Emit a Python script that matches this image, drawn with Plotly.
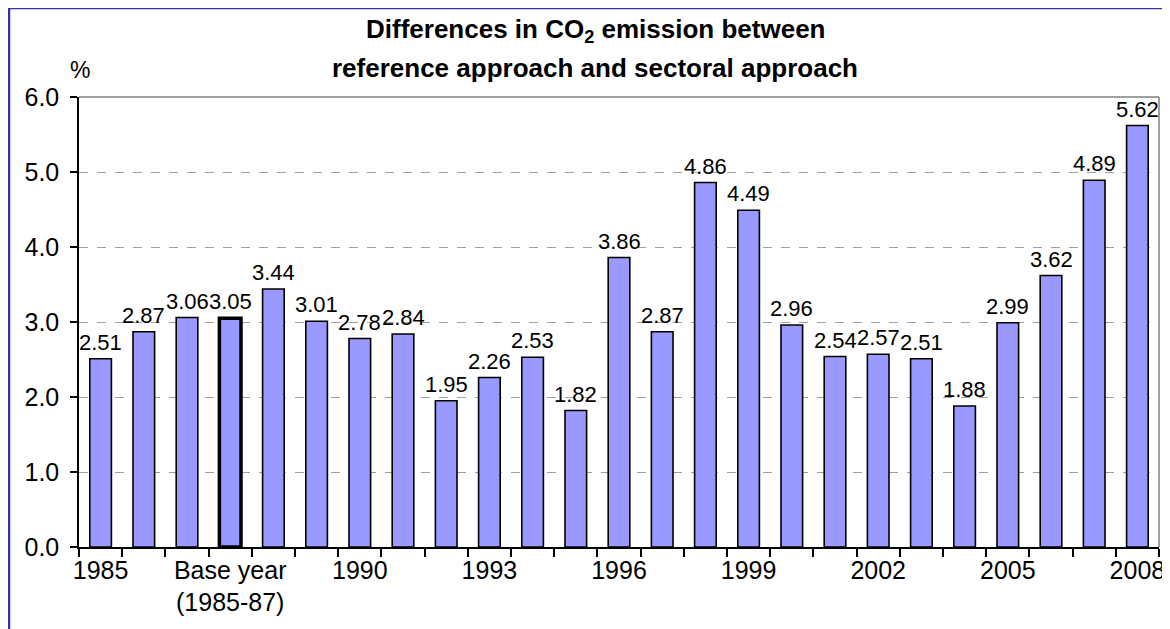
import plotly.graph_objects as go

categories = ["1985", "1986", "1987", "Base year<br>(1985-87)", "1988", "1989", "1990",
              "1991", "1992", "1993", "1994", "1995", "1996", "1997", "1998", "1999",
              "2000", "2001", "2002", "2003", "2004", "2005", "2006", "2007", "2008"]
values = [2.51, 2.87, 3.06, 3.05, 3.44, 3.01, 2.78, 2.84, 1.95, 2.26, 2.53, 1.82, 3.86,
          2.87, 4.86, 4.49, 2.96, 2.54, 2.57, 2.51, 1.88, 2.99, 3.62, 4.89, 5.62]
labels = [f"{v:.2f}" for v in values]
shown_ticks = list(range(0, len(categories), 3))
title_lines = ["<b>Differences in CO<sub>2</sub> emission between</b>",
               "<b>reference approach and sectoral approach</b>"]

FONT = "Liberation Sans, Arial"
W, H = 1162, 621          # page has an 8px body margin
L, R, T, B = 71, 11, 89, 82
PW, PH = W - L - R, H - T - B

def px(fx):
    return (fx - L) / PW

def py(fy):
    return 1 + (T - fy) / PH

xs = list(range(len(categories)))
line_widths = [3.5 if c.startswith("Base") else 1.6 for c in categories]

fig = go.Figure()
fig.add_trace(go.Bar(
    x=xs, y=values, width=0.5,
    marker=dict(color="#9999FF", line=dict(color="black", width=line_widths)),
    hoverinfo="skip",
))

for x, v, t in zip(xs, values, labels):
    fig.add_annotation(x=x, y=v, text=t, showarrow=False, yanchor="bottom", yshift=2,
                       font=dict(family=FONT, size=22, color="black"))

for line, fy in zip(title_lines, [22, 60]):
    fig.add_annotation(xref="paper", yref="paper", x=px(587), y=py(fy),
                       yanchor="middle", xanchor="center", showarrow=False, text=line,
                       font=dict(family=FONT, size=26, color="black"))
fig.add_annotation(xref="paper", yref="paper", x=px(72), y=py(62), xanchor="center",
                   yanchor="middle", showarrow=False, text="%",
                   font=dict(family=FONT, size=23, color="black"))

# outer border (dark blue), extends beyond right/bottom
fig.add_shape(type="line", xref="paper", yref="paper", x0=px(1), x1=px(W + 20),
              y0=py(0), y1=py(0), line=dict(color="#333399", width=2.5))
fig.add_shape(type="line", xref="paper", yref="paper", x0=px(1), x1=px(1),
              y0=py(0), y1=py(H + 20), line=dict(color="#333399", width=2.5))
# plot frame top/right
fig.add_shape(type="line", xref="paper", yref="paper", x0=0, x1=1, y0=1, y1=1,
              line=dict(color="#808080", width=1.5))
fig.add_shape(type="line", xref="paper", yref="paper", x0=1, x1=1, y0=0, y1=1,
              line=dict(color="#808080", width=1.5))

fig.update_layout(
    width=W, height=H,
    margin=dict(l=L, r=R, t=T, b=B, autoexpand=False),
    paper_bgcolor="white", plot_bgcolor="white",
    showlegend=False,
    font=dict(family=FONT, size=25, color="black"),
    xaxis=dict(
        range=[-0.5, len(categories) - 0.5],
        tickmode="array", tickvals=shown_ticks,
        ticktext=[categories[i] for i in shown_ticks],
        ticks="", showgrid=False, zeroline=False,
        showline=True, linecolor="black", linewidth=1.5,
        minor=dict(tickmode="linear", tick0=-0.5, dtick=1, ticks="outside",
                   ticklen=8, tickcolor="black", tickwidth=1.5, showgrid=False),
        tickfont=dict(size=25),
    ),
    yaxis=dict(
        range=[0, 6], dtick=1, tickformat=".1f",
        ticks="outside", ticklen=7, tickcolor="black", tickwidth=1.5,
        ticklabelstandoff=6,
        showline=True, linecolor="black", linewidth=1.5,
        showgrid=True, gridcolor="#A0A0A0", griddash="dash", gridwidth=1,
        zeroline=False, tickfont=dict(size=25),
    ),
)

fig.write_html("out.html")
